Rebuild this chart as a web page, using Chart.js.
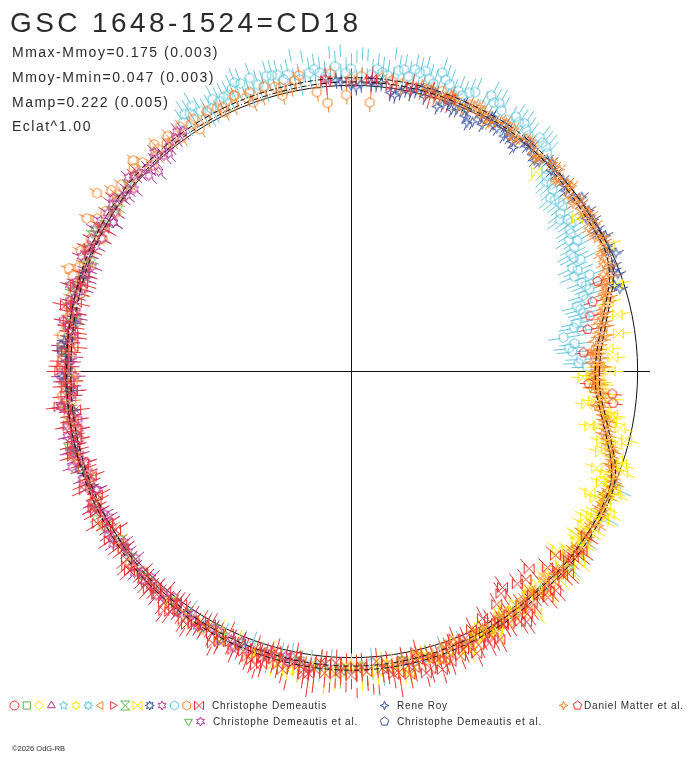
<!DOCTYPE html>
<html>
<head>
<meta charset="utf-8">
<script src="https://cdn.jsdelivr.net/npm/chart.js@4/dist/chart.umd.min.js"></script>
<style>
    html, body { margin: 0; padding: 0; background: #fff; }
    #wrap { position: relative; width: 688px; height: 768px; overflow: hidden; }
    #chart, #txt { position: absolute; left: 0; top: 0; }
    #txt text { font-family: "Liberation Sans", Arial, sans-serif; fill: #2b2b2b; }
</style>
</head>
<body>
<div id="wrap">
    <canvas id="chart" width="688" height="768"></canvas>
    <svg id="txt" width="688" height="768">
        <text x="10" y="32" font-size="28" letter-spacing="3.4">GSC 1648-1524=CD18</text>
        <text x="12" y="57" font-size="14" letter-spacing="1.5">Mmax-Mmoy=0.175 (0.003)</text>
        <text x="12" y="82" font-size="14" letter-spacing="1.5">Mmoy-Mmin=0.047 (0.003)</text>
        <text x="12" y="107" font-size="14" letter-spacing="1.5">Mamp=0.222 (0.005)</text>
        <text x="12" y="131" font-size="14" letter-spacing="1.5">Eclat^1.00</text>
        <text x="212" y="709" font-size="10" letter-spacing="0.8">Christophe Demeautis</text>
        <text x="397" y="709" font-size="10" letter-spacing="0.8">Rene Roy</text>
        <text x="584" y="709" font-size="10" letter-spacing="0.8">Daniel Matter et al.</text>
        <text x="213" y="725" font-size="10" letter-spacing="0.8">Christophe Demeautis et al.</text>
        <text x="397" y="725" font-size="10" letter-spacing="0.8">Christophe Demeautis et al.</text>
        <text x="12" y="751" font-size="7.5">©2026 OdG-RB</text>
    </svg>
</div>
<script>
// =========================
// Data: phase angle (deg) and magnitude offset from mean (mag, + = fainter)
// =========================
const cyanDeg = [123,120,117,114,111,108,105,102,99,96,93,90,87,84,81,78,75,72,69,66,63,60,57,54,51,48,
    45,42,40,37,34,32,29,27,25,22,20,17,14,12,9,7,5,3,1,
    336,330,324,318,312,305,298,292,285,280,276,272,268,264,260,256,250,244,236,118,100,86,70,58,109,92,76,64,
    122,116,113,107,104,98,95,89,83,80,74,71,68,62,56,53,50,
    288,282,274,270,266,262,258,254,248,240, 43,39,35,30,24,19,15,10,6,2,
    124,121,119,115,112,110,106,103,101,97,94,91,88,85,82,79,77,73,67,61,55,49,
    46,44,41,38,36,33,31,28,26,23,21,18,16,13,11];
const cyanMag = [-.087,-.061,-.083,-.070,-.096,-.065,-.087,-.074,-.100,-.061,-.083,-.070,-.091,-.061,-.078,-.096,-.070,-.087,-.061,-.083,
    -.100,-.065,-.074,-.052,-.061,-.030,
    .043,.065,.087,.104,.091,.117,.135,.157,.183,.126,.157,.174,.204,.243,.309,.265,.278,.243,.217,
    -.017,-.026,-.004,-.022,-.013,-.030,-.022,-.043,-.052,-.039,-.061,-.048,-.065,-.043,-.057,-.039,-.030,-.043,-.026,
    -.048,-.043,-.048,-.039,-.043,-.104,-.109,-.100,-.043,
    -.078,-.061,-.087,-.052,-.083,-.065,-.043,-.083,-.052,-.087,-.056,-.074,-.048,-.078,-.061,-.039,-.052,
    -.035,-.048,-.030,-.052,-.035,-.048,-.030,-.052,-.039,-.035, .052,.078,.096,.109,.165,.148,.213,.226,.291,.254,
    -.061,-.100,-.043,-.070,-.109,-.048,-.091,-.057,-.113,-.078,-.104,-.052,-.096,-.074,-.109,-.061,-.087,-.113,-.070,-.087,-.070,-.048,
    .022,.061,.096,.078,.122,.113,.139,.161,.135,.191,.170,.183,.222,.200,.257];

const orangeHexDeg = [86,97,90,102,105,108,111,114,117,120,123,126,129,132,135,138,141,144,147,150,153,156,159,162,165,168,171,174,177,180,
    183,186,190,194,198,203,208,213,218,224,100,94,84,80,76,74,70,66,62,143,128,113,156,145,150,160,136,91,95,
    152,158,164,169,175,181,187,192,197,201,206,211,216,221,227,232,238,104,110,116,122,131,137,88,82,78,72,
    101,104,107,110,113,116,119,122,125,128,131,134,137,140,143,146,149,152,155,158,
    161,164,167,170,173,176,179,182,185,189,193,197,202,207,212,217,222,228,234,240];
const orangeHexMag = [.074,.022,-.026,-.017,-.035,-.013,-.030,-.017,-.039,-.022,-.035,-.009,-.030,-.017,-.039,-.022,-.043,-.013,-.030,-.009,
    -.026,-.004,-.022,.004,-.013,.009,-.009,.017,0,.026,.004,.022,.009,.026,0,.013,-.009,.004,-.017,-.009,
    -.061,-.052,-.035,-.022,-.013,-.026,-.009,-.022,0,-.061,-.052,-.057,-.043,-.104,-.083,-.061,-.074,.043,.074,
    .017,-.009,.022,-.004,.013,.030,.004,.017,-.013,.022,.004,-.017,0,-.030,-.022,-.039,-.035,-.026,-.043,-.030,-.048,-.035,-.026,
    -.039,-.030,-.017,-.035,
    -.043,.009,-.048,0,-.057,-.009,-.048,.004,-.052,-.022,-.061,0,-.048,-.009,-.030,.013,-.043,.022,-.026,.013,
    -.035,.022,-.017,.030,-.022,.022,-.004,.035,-.017,0,.017,-.022,.026,-.013,-.026,-.004,-.035,-.026,-.043,-.052];

const orangeStarDeg = [75,72,69,66,63,60,57,54,51,48,45,42,40,38,36,34,32,30,28,26,24,22,20,18,16,14,12,10,8,6,4,2,0,
    358,356,354,352,350,348,346,344,342,340,338,336,334,332,330,328,325,322,319,316,313,310,307,304,301,298,295,292,288,284,280,
    3,359,7,11,351,15,347,21,341,27,335,33,1,5,357,70,64,56,50,44,
    74,71,68,65,62,59,56,53,49,46,43,41,39,37,35,31,29,25,23,19,17,13,9,4,359.5,
    355,353,349,345,343,339,337,333,331,327,324,321,318,315,312,309,306,303,300,297,294,290,286,282,
    76,73,70,67,64,61,58,55,52,49,46,43,40,37,34,31,28,25,22,19,16,13,10,7,4,1,358,355,352,349,
    346,343,340,337,334,331,328,325,322,319,316,313,310,307,304,301,298,295,292,289,286,283,279,20,17,11,8,5,2,356];
const orangeStarMag = [-.022,-.009,-.026,-.013,-.022,-.004,-.017,0,-.013,.004,-.009,.013,.004,.022,.009,.026,.013,.030,.017,.026,.039,.043,
    .061,.078,.096,.113,.130,.139,.157,.161,.170,.174,.183,
    .170,.178,.157,.148,.130,.113,.096,.078,.057,.035,.017,.004,-.004,.004,-.013,-.004,-.017,0,-.013,-.004,-.017,0,-.013,-.022,-.009,-.026,
    -.017,-.030,-.022,-.039,-.030,
    .157,.191,.178,.122,.143,.087,.104,.070,.043,.009,.013,0,.148,.191,.161,-.035,-.009,-.026,.009,-.017,
    -.030,-.013,-.004,-.030,-.009,-.026,.004,-.022,.009,-.017,.017,-.004,.030,0,.022,.004,.035,.022,.052,.074,.083,.126,.150,.183,.178,
    .165,.139,.126,.091,.065,.026,.009,.009,-.009,.004,-.022,.009,-.017,0,-.026,.009,-.030,-.004,-.035,-.013,-.039,-.026,-.035,-.043,
    -.039,0,-.030,.004,-.035,.009,-.030,.013,-.026,.022,-.004,.030,-.009,.035,.004,.039,0,.048,.022,.087,.074,.109,.117,.143,.196,.165,
    .187,.148,.170,.104,
    .117,.052,.048,-.009,.022,.013,-.026,.013,-.030,.017,-.026,.013,-.030,.004,-.039,0,-.043,-.004,-.048,-.013,-.052,-.017,-.048,
    .035,.100,.148,.126,.165,.200,.200];

const redDeg = [228,231,234,237,240,243,246,249,252,254,256,258,260,262,264,266,268,270,272,274,276,278,280,282,284,286,288,290,292,294,
    296,298,300,302,305,308,311,314,317,320,
    166,170,173,176,179,182,185,188,191,194,197,200,203,206,209,212,215,218,221,224,
    95,90,86,82,78,74,70, 312,308,305,302,315,298,295,
    245,259,267,275,283,291,299,306,250,262,271,279,287,
    229,233,236,239,242,247,251,253,255,257,261,263,265,269,273,277,281,285,289,293,
    297,301,304,307,310,313,316,319,322,325,
    168,172,178,184,190,196,202,208,214,220,226,160,163, 310,318,304,
    227,230,232,235,238,241,244,248,251,253,255,257,259,261,263,265,267,269,271,273,
    275,277,279,281,283,285,287,289,291,293,295,297,299,301,303,306,309,312,316,321,
    150,155,162,167,171,175,180,183,187,192,195,199,204,207,211,214,217,222,225,233];
const redMag = [-.026,-.052,-.009,-.070,-.035,-.083,-.043,-.061,-.100,-.039,-.070,-.113,-.052,-.083,-.030,-.096,-.061,-.078,-.043,-.104,
    -.057,-.087,-.035,-.074,-.109,-.048,-.078,-.030,-.061,-.100,-.043,-.070,-.022,-.052,-.087,-.035,-.061,-.026,-.048,-.017,
    .013,-.004,.026,.004,-.013,.017,0,.035,-.009,.013,-.022,.004,-.013,.017,-.026,-.004,-.039,-.013,-.048,-.017,
    -.022,-.013,-.026,-.009,-.017,-.004,-.013, .087,.070,.096,.048,.035,.026,.004,
    -.017,-.017,-.026,-.022,-.013,-.004,0,-.013,-.078,-.126,-.117,-.130,-.113,
    -.043,-.017,-.061,-.026,-.048,-.070,-.030,-.087,-.052,-.035,-.091,-.061,-.074,-.043,-.087,-.065,-.100,-.052,-.091,-.048,
    -.083,-.035,-.070,-.048,-.026,-.061,-.035,-.009,-.030,-.004,
    .004,.022,-.009,.030,.017,-.004,.026,-.022,.009,-.030,-.035,.009,-.009, .061,.048,.078,
    -.048,-.009,-.078,-.035,-.052,-.017,-.065,-.039,-.083,-.061,-.017,-.087,-.043,-.070,-.104,-.035,-.074,-.091,-.048,-.065,
    -.109,-.039,-.083,-.061,-.043,-.096,-.065,-.052,-.083,-.022,-.070,-.035,-.091,-.043,-.017,-.061,-.009,-.043,-.013,-.030,
    .004,-.013,.017,-.030,.009,.030,-.022,.004,-.035,.022,-.009,.013,-.026,0,-.043,.009,-.022,-.052,-.030,-.065];

const redPentDeg = [16,10,4.5,353,355,13,357,20];
const redPentMag = [.152,.200,.230,.096,.104,.178,.209,.104];

const yellowDeg = [358.5,352,0,354,357,350,347,346,344,342,339.5,337,335,333,331,329,327,325,322,319,317,315,313,310,307.5,305,302,299,
    3,8,12,18,26,47,34,
    250,254,258,262,265,268,271,274,277,280,283,286,289,293,296,243,238,
    348,341,336,332,328,323,320,311,356,1,
    359,355,351,349,345,343,340,338,334,330,326,324,321,318,316,314,312,309,306,304,301,298,296,
    252,256,260,264,267,270,273,276,279,282,285,288,291,295,5,15,
    357.5,353,350.5,347.5,344.5,341.5,338.5,335.5,332.5,329.5,326.5,323.5,320.5,317.5,314.5,311.5,308.5,305.5,302.5,299.5,
    297,294,291,288,284,281,278,275,272,269,266,263,259,255,251,247,244,240,236,232];
const yellowMag = [.235,.209,.117,.109,.157,.104,.178,.009,.070,.104,-.017,.026,-.026,.078,-.039,.026,-.017,.009,-.035,.057,
    -.004,-.043,.013,-.017,-.083,.004,-.035,-.061,
    .104,.070,.061,.026,-.004,.061,.057,
    -.061,-.030,-.087,-.048,-.109,-.070,-.039,-.096,-.057,-.078,-.026,-.061,-.043,-.074,-.022,-.022,-.048,
    .048,0,.052,-.009,.043,.013,-.052,.017,.183,.165,
    .200,.139,.122,.091,.048,.083,.017,.052,.004,.013,-.009,.035,-.022,.017,-.030,-.004,-.043,.030,-.013,-.026,-.004,-.043,-.030,
    -.043,-.061,-.074,-.030,-.087,-.052,-.065,-.035,-.083,-.048,-.039,-.070,-.052,-.035,.122,.087,
    .165,.183,.091,.143,.113,.022,.096,-.009,.048,-.030,.035,-.013,.022,-.048,.030,-.052,0,-.030,.009,-.048,
    -.009,-.052,-.017,-.074,-.035,-.091,-.043,-.070,-.087,-.035,-.065,-.100,-.043,-.074,-.052,-.030,-.061,-.039,-.035,-.022];

const magentaDeg = [125,129,132,135,138,141,144,147,150,153,156,159,162,165,168,171,174,177,180,183,186,189,192,195,198,201,204,207,210,213,
    216,219,222,225,228,231,234,237,240,244,248,252,257,262,95,86,134,148,
    158,170,181,193,205,217,232,199,187,163,
    127,131,137,140,143,146,149,152,155,161,164,167,173,176,179,182,185,188,191,194,
    197,203,209,212,215,221,224,227,230,236,239,242,246,250,254,260,
    126,130,133,136,139,142,145,148,151,154,157,160,163,166,169,172,175,178,181,184,
    187,190,193,196,199,202,205,208,211,214,218,223,226,229,233,238,243,247,253,258];
const magentaMag = [-.030,-.013,-.035,-.004,-.026,-.009,-.035,-.017,.004,-.022,-.004,.013,-.013,.004,.022,-.004,.013,.030,.004,.022,
    -.004,.013,.035,.004,-.013,.017,-.004,-.022,.004,-.017,-.035,-.004,-.026,-.043,-.013,-.030,-.048,-.017,-.039,
    -.057,-.026,-.043,-.030,-.057,-.030,-.022,.039,.026,
    .030,-.026,.043,-.022,.026,.009,-.004,-.039,-.026,-.035,
    -.022,.004,-.017,.013,-.004,.009,-.026,.017,-.013,.026,.009,-.009,.022,-.017,.017,-.009,.026,.004,-.013,.022,
    .009,.013,-.004,.009,-.022,.004,-.013,-.035,-.022,-.030,-.052,-.026,-.035,-.048,-.039,-.043,
    -.043,.009,-.009,.022,-.039,.004,-.022,.026,-.030,.009,-.030,.017,.026,-.017,.030,.013,-.022,.022,-.017,.035,
    -.026,.039,0,-.030,.026,-.017,.022,-.035,.013,-.030,0,-.043,-.004,-.048,-.013,-.043,-.026,-.061,-.035,-.052];

const greenDeg = [140,146,152,158,164,170,176,184,190,196,204,212,220,228,236,244,252,260,268,300,318,
    143,149,155,161,167,173,180,187,193,200,208,216,224,232,240,248,256,264,272,280,
    145,151,157,163,169,175,182,188,195,202,210,218,226,234,242];
const greenMag = [-.022,-.009,-.030,0,-.017,.013,-.004,.026,.004,-.017,.009,-.026,-.009,-.043,-.022,-.035,-.048,-.030,-.043,-.039,-.035,
    -.013,0,-.022,.009,-.009,.004,.017,-.009,.013,-.004,-.017,.004,-.030,-.017,-.043,-.026,-.039,-.048,-.035,-.030,
    .009,-.022,.017,-.030,.022,-.017,-.004,.017,-.026,.013,-.035,-.004,-.022,-.043,-.017];

const blueDeg = [92,88,84,80,77,74,72,70,67,65,63,61,59,57,55,54,52,50,47,44,40,36,32,28,24,17,20,184,178,196,170,78,68,62,58,53,
    90,86,82,79,75,73,69,66,64,60,56,51,48,45,42,38,34,30,26,22,188,174,
    93,89,85,81,76,71,66,61,57,52,49,46,41,37,33,29,25,21,18,181];
const blueMag = [-.013,-.004,-.017,.013,-.009,-.026,.035,0,-.017,.052,.004,-.013,.013,-.004,.026,.043,.004,.017,-.009,.009,
    .026,.009,0,-.009,-.017,.022,.009,.017,.004,-.004,.030,.004,.017,.030,-.017,-.009,
    .004,-.013,.022,-.004,.009,-.017,.026,.004,.039,.009,.017,-.004,.022,.013,.004,.017,-.004,.009,.004,.013,.026,-.009,
    -.022,.009,-.009,.030,-.022,.017,.030,-.022,.026,-.017,.030,-.013,.013,-.013,.026,.013,.009,.022,.039,-.009];

const bluePentDeg = [176,200,160];
const bluePentMag = [-.017,-.009,.013];

// fitted light curve (mag offset vs phase)
const fitDeg = [0,5,10,15,20,25,30,40,50,60,75,90,105,120,135,150,165,180,195,210,225,240,255,270,285,300,315,325,335,340,345,350,355];
const fitMag = [.174,.161,.130,.087,.039,.013,.013,.009,-.009,-.017,-.022,-.022,-.017,-.017,-.013,-.004,.009,.017,.009,-.004,
    -.022,-.035,-.043,-.048,-.043,-.030,-.017,-.013,0,.030,.083,.130,.165];
const FIT_BAND = 0.009;

// =========================
// polar mapping: mean magnitude on a circle, fainter = inward
// =========================
const R_MEAN = 0.957;
const K_MAG = 0.769;
const toR = dm => R_MEAN - K_MAG * dm;

function polar(deg, mag) {
    return deg.map((d, i) => {
        const r = toR(mag[i]);
        const a = d * Math.PI / 180;
        return { x: r * Math.cos(a), y: r * Math.sin(a), ph: d, dm: mag[i] };
    });
}

// =========================
// marker shapes
// =========================
function shapePath(g, kind, cx, cy, r) {
    g.beginPath();
    const poly = (n, rot) => {
        for (let k = 0; k < n; k++) {
            const a = rot + k * 2 * Math.PI / n;
            const px = cx + r * Math.cos(a), py = cy + r * Math.sin(a);
            k ? g.lineTo(px, py) : g.moveTo(px, py);
        }
        g.closePath();
    };
    const star = (n, rot, ri) => {
        for (let k = 0; k < 2 * n; k++) {
            const a = rot + k * Math.PI / n;
            const rr = k % 2 ? ri : r;
            const px = cx + rr * Math.cos(a), py = cy + rr * Math.sin(a);
            k ? g.lineTo(px, py) : g.moveTo(px, py);
        }
        g.closePath();
    };
    switch (kind) {
        case 'circle': g.arc(cx, cy, r, 0, 2 * Math.PI); break;
        case 'square': g.rect(cx - r * 0.8, cy - r * 0.8, r * 1.6, r * 1.6); break;
        case 'diamond': poly(4, -Math.PI / 2); break;
        case 'triangle': poly(3, -Math.PI / 2); break;
        case 'triangleDown': poly(3, Math.PI / 2); break;
        case 'triangleLeft': poly(3, Math.PI); break;
        case 'triangleRight': poly(3, 0); break;
        case 'hexagon': poly(6, -Math.PI / 2); break;
        case 'pentagon': poly(5, -Math.PI / 2); break;
        case 'star4': star(4, -Math.PI / 2, r * 0.35); break;
        case 'star5': star(5, -Math.PI / 2, r * 0.45); break;
        case 'star6': star(6, -Math.PI / 2, r * 0.55); break;
        case 'star8': star(8, -Math.PI / 2, r * 0.5); break;
        case 'bowtie':
            g.moveTo(cx - r, cy - r); g.lineTo(cx + r, cy + r);
            g.lineTo(cx + r, cy - r); g.lineTo(cx - r, cy + r); g.closePath(); break;
        case 'hourglass':
            g.moveTo(cx - r, cy - r); g.lineTo(cx + r, cy - r);
            g.lineTo(cx - r, cy + r); g.lineTo(cx + r, cy + r); g.closePath(); break;
    }
    g.stroke();
}

function marker(kind, color) {
    const c = document.createElement('canvas');
    c.width = c.height = 13;
    const g = c.getContext('2d');
    g.strokeStyle = color;
    g.lineWidth = 1;
    shapePath(g, kind, 6.5, 6.5, 5);
    return c;
}

const CYAN = '#66c8de', ORANGE = '#f7842b', RED = '#ee3333', YELLOW = '#ffe900',
      MAGENTA = '#b3328e', GREEN = '#58b847', BLUE = '#3a52a2';

// top of list is drawn last (on top)
const series = [
    { deg: redPentDeg, mag: redPentMag, color: RED, shape: 'pentagon', err: 0.04 },
    { deg: redDeg, mag: redMag, color: RED, shape: 'bowtie', err: 0.06 },
    { deg: orangeStarDeg, mag: orangeStarMag, color: ORANGE, shape: 'star4', err: 0.035 },
    { deg: blueDeg, mag: blueMag, color: BLUE, shape: 'star4', err: 0.035 },
    { deg: bluePentDeg, mag: bluePentMag, color: BLUE, shape: 'pentagon', err: 0.035 },
    { deg: magentaDeg, mag: magentaMag, color: MAGENTA, shape: 'star6', err: 0.045 },
    { deg: yellowDeg, mag: yellowMag, color: YELLOW, shape: 'bowtie', err: 0.055 },
    { deg: orangeHexDeg, mag: orangeHexMag, color: ORANGE, shape: 'hexagon', err: 0.04 },
    { deg: greenDeg, mag: greenMag, color: GREEN, shape: 'triangleDown', err: 0.035 },
    { deg: cyanDeg, mag: cyanMag, color: CYAN, shape: 'hexagon', err: 0.07 }
];

const closeLoop = arr => arr.concat([arr[0]]);
const fitHi = polar(closeLoop(fitDeg), closeLoop(fitMag.map(m => m - FIT_BAND)));
const fitLo = polar(closeLoop(fitDeg), closeLoop(fitMag.map(m => m + FIT_BAND)));

const envStyle = {
    showLine: true, pointRadius: 0, borderColor: '#111', borderWidth: 1,
    borderDash: [5, 2, 1, 2], tension: 0.35, fill: false, clip: false
};

const datasets = [
    Object.assign({ label: 'fit+', data: fitHi }, envStyle),
    Object.assign({ label: 'fit-', data: fitLo }, envStyle)
].concat(series.map(s => ({
    data: polar(s.deg, s.mag),
    pointStyle: marker(s.shape, s.color),
    borderColor: s.color,
    backgroundColor: 'transparent',
    pointRadius: 5,
    pointHoverRadius: 5,
    errMag: s.err,
    clip: false
})));

// =========================
// axes cross + mean circle + error bars
// =========================
const polarFrame = {
    id: 'polarFrame',
    beforeDatasetsDraw(chart) {
        const { ctx, scales: { x, y } } = chart;
        const cx = Math.round(x.getPixelForValue(0)) + 0.5;
        const cy = Math.round(y.getPixelForValue(0)) + 0.5;
        const pxPerUnit = x.getPixelForValue(1) - x.getPixelForValue(0);
        ctx.save();
        ctx.strokeStyle = '#111';
        ctx.lineWidth = 1;
        ctx.beginPath();
        ctx.moveTo(x.getPixelForValue(x.min), cy);
        ctx.lineTo(x.getPixelForValue(x.max), cy);
        ctx.moveTo(cx, y.getPixelForValue(y.max));
        ctx.lineTo(cx, y.getPixelForValue(y.min));
        ctx.stroke();
        ctx.beginPath();
        ctx.arc(cx, cy, R_MEAN * pxPerUnit, 0, 2 * Math.PI);
        ctx.stroke();

        // radial error bars, broken at the marker
        const gap = 3.5;
        for (let i = chart.data.datasets.length - 1; i >= 0; i--) {
            const ds = chart.data.datasets[i];
            if (!ds.errMag) continue;
            ctx.strokeStyle = ds.borderColor;
            ctx.beginPath();
            ds.data.forEach(p => {
                const a = p.ph * Math.PI / 180;
                const ux = Math.cos(a), uy = -Math.sin(a);
                const rc = toR(p.dm) * pxPerUnit;
                const rIn = toR(p.dm + ds.errMag) * pxPerUnit;
                const rOut = toR(p.dm - ds.errMag) * pxPerUnit;
                ctx.moveTo(cx + ux * (rc + gap), cy + uy * (rc + gap));
                ctx.lineTo(cx + ux * rOut, cy + uy * rOut);
                ctx.moveTo(cx + ux * (rc - gap), cy + uy * (rc - gap));
                ctx.lineTo(cx + ux * rIn, cy + uy * rIn);
            });
            ctx.stroke();
        }
        ctx.restore();
    },
    afterDraw(chart) {
        // legend symbols
        const ctx = chart.ctx;
        ctx.save();
        ctx.lineWidth = 1;
        const row1 = [
            ['circle', RED], ['square', GREEN], ['diamond', YELLOW], ['triangle', MAGENTA],
            ['star5', CYAN], ['star6', YELLOW], ['star8', CYAN], ['triangleLeft', ORANGE],
            ['triangleRight', RED], ['hourglass', GREEN], ['bowtie', YELLOW], ['star8', BLUE],
            ['star6', MAGENTA], ['hexagon', CYAN], ['hexagon', ORANGE], ['bowtie', RED]
        ];
        row1.forEach((s, i) => {
            ctx.strokeStyle = s[1];
            shapePath(ctx, s[0], 14.5 + i * 12.3, 705.5, 4.5);
        });
        const extra = [
            ['star4', BLUE, 384.5, 705.5], ['star4', ORANGE, 563.5, 705.5], ['pentagon', RED, 577.5, 705.5],
            ['triangleDown', GREEN, 188.5, 721.5], ['star6', MAGENTA, 200.5, 721.5], ['pentagon', BLUE, 384.5, 721.5]
        ];
        extra.forEach(s => {
            ctx.strokeStyle = s[1];
            shapePath(ctx, s[0], s[2], s[3], 4.5);
        });
        ctx.restore();
    }
};

new Chart(document.getElementById('chart').getContext('2d'), {
    type: 'scatter',
    data: { datasets: datasets },
    options: {
        responsive: false,
        animation: false,
        devicePixelRatio: 1,
        layout: { padding: { left: 52, right: 38, top: 72, bottom: 98 } },
        scales: {
            x: { type: 'linear', min: -1, max: 1, display: false },
            y: { type: 'linear', min: -1, max: 1, display: false }
        },
        plugins: {
            legend: { display: false },
            tooltip: { enabled: false }
        },
        events: []
    },
    plugins: [polarFrame]
});
</script>
</body>
</html>
